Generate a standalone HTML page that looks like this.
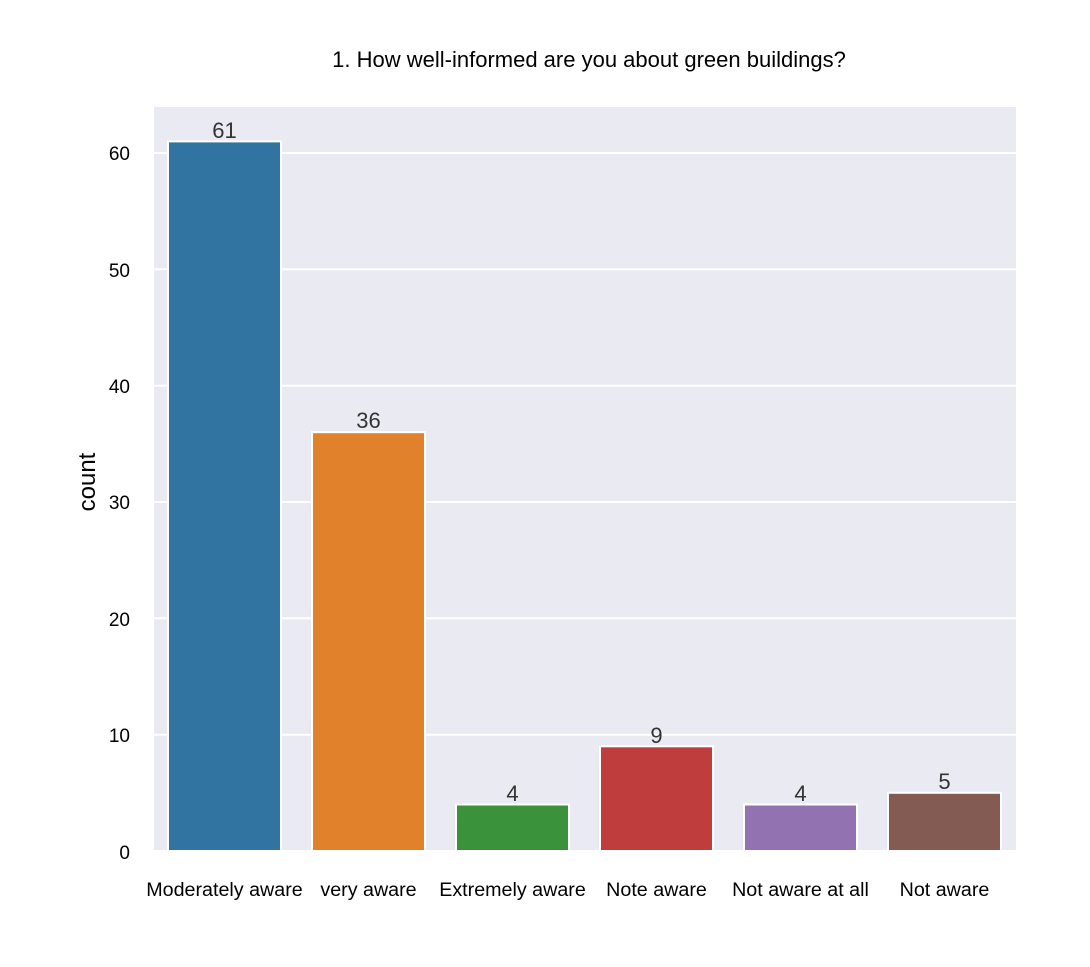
<!DOCTYPE html>
<html><head><style>
body{margin:0;background:#fff;}
text{font-family:"Liberation Sans",sans-serif;}
</style></head><body>
<svg width="1090" height="962" xmlns="http://www.w3.org/2000/svg">
<rect width="1090" height="962" fill="#fff"/>
<rect x="154" y="107" width="862" height="745" fill="#eaeaf2"/>
<g stroke="#fff" stroke-width="2">
<line x1="154" x2="1016" y1="153" y2="153"/>
<line x1="154" x2="1016" y1="269.3" y2="269.3"/>
<line x1="154" x2="1016" y1="385.7" y2="385.7"/>
<line x1="154" x2="1016" y1="502" y2="502"/>
<line x1="154" x2="1016" y1="618.3" y2="618.3"/>
<line x1="154" x2="1016" y1="734.7" y2="734.7"/>
<line x1="154" x2="1016" y1="851" y2="851"/>
</g>
<g stroke="#fff" stroke-width="2">
<rect x="168" y="141.4" width="113" height="709.6" fill="#3274a1"/>
<rect x="312" y="432.2" width="113" height="418.8" fill="#e1812c"/>
<rect x="456" y="804.5" width="113" height="46.5" fill="#3a923a"/>
<rect x="600" y="746.3" width="113" height="104.7" fill="#c03d3e"/>
<rect x="744" y="804.5" width="113" height="46.5" fill="#9372b2"/>
<rect x="888" y="792.8" width="113" height="58.2" fill="#845b53"/>
</g>
<g font-size="22" fill="#333" text-anchor="middle">
<text x="224.5" y="138">61</text>
<text x="368.5" y="428">36</text>
<text x="512.5" y="801">4</text>
<text x="656.5" y="743">9</text>
<text x="800.5" y="801">4</text>
<text x="944.5" y="789">5</text>
</g>
<g font-size="19" fill="#000" text-anchor="end">
<text x="130" y="160">60</text>
<text x="130" y="277">50</text>
<text x="130" y="393">40</text>
<text x="130" y="509">30</text>
<text x="130" y="626">20</text>
<text x="130" y="742">10</text>
<text x="130" y="859">0</text>
</g>
<g font-size="19.7" fill="#000" text-anchor="middle">
<text x="224.5" y="896">Moderately aware</text>
<text x="368.5" y="896">very aware</text>
<text x="512.5" y="896">Extremely aware</text>
<text x="656.5" y="896">Note aware</text>
<text x="800.5" y="896">Not aware at all</text>
<text x="944.5" y="896">Not aware</text>
</g>
<text x="95" y="482" font-size="24" text-anchor="middle" transform="rotate(-90 95 482)">count</text>
<text x="589" y="67" font-size="22" text-anchor="middle">1. How well-informed are you about green buildings?</text>
</svg>
</body></html>
